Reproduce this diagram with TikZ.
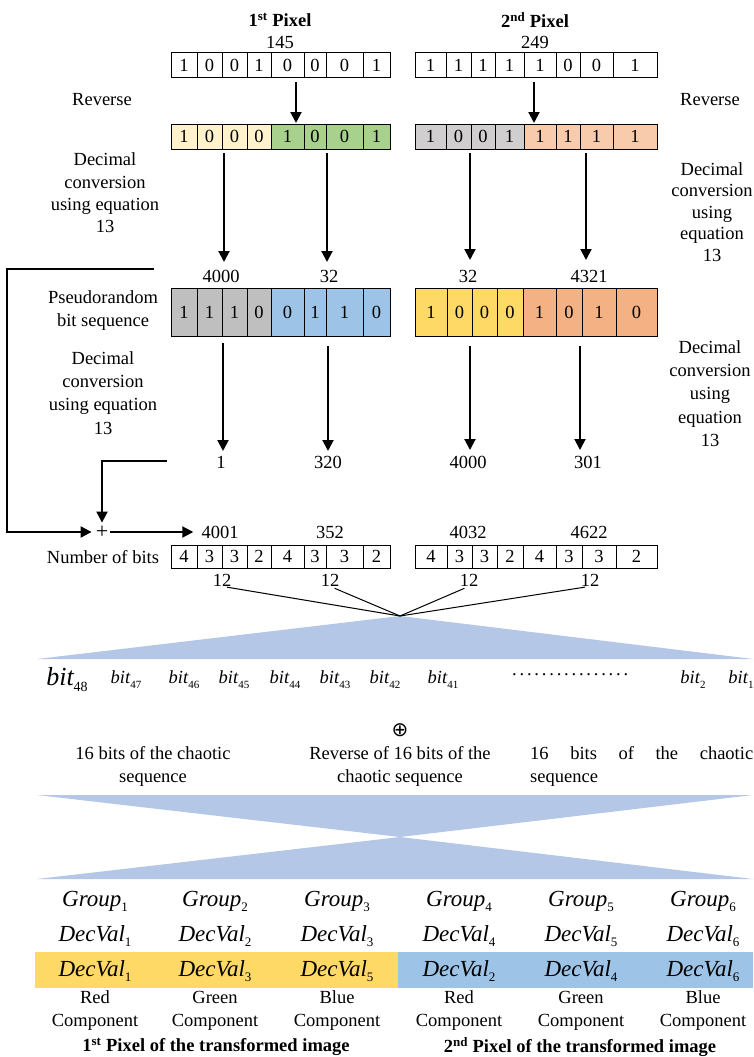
\documentclass[tikz,border=0pt]{standalone}
\usepackage{fontspec}
\setmainfont{Liberation Serif}
\newfontfamily\symfont{DejaVu Sans}
\usetikzlibrary{arrows.meta}
\definecolor{cream}{HTML}{FFF2CC}
\definecolor{greenc}{HTML}{A9D18E}
\definecolor{grayA}{HTML}{D0CECE}
\definecolor{grayB}{HTML}{BFBFBF}
\definecolor{peach}{HTML}{F8CBAD}
\definecolor{blueA}{HTML}{9DC3E6}
\definecolor{yellowA}{HTML}{FFD966}
\definecolor{salmon}{HTML}{F4B183}
\definecolor{triblue}{HTML}{B4C7E7}
\newcommand\lsub[1]{\raisebox{-5pt}{\fontsize{13}{13}\selectfont\upshape #1}}
\newcommand\bsub[1]{\raisebox{-5pt}{\fontsize{11}{11}\selectfont\upshape #1}}
\newcommand\cellrow[4]{%
  \foreach \a/\b/\d/\c [count=\i] in {#4} {
    \node[cell, fill=\c, minimum width={(\b-\a)*1pt}, minimum height={(#3-#2)*1pt}]
      (#1\i) at ({(\a+\b)/2},{(#2+#3)/2}) {\d};
  }}
\tikzset{
  txt/.style={font=\fontsize{18.5}{23}\selectfont, inner sep=0pt, align=center},
  ttl/.style={font=\bfseries\fontsize{18.5}{23}\selectfont, inner sep=0pt, align=center},
  big/.style={font=\itshape\fontsize{23}{23}\selectfont, inner sep=0pt, anchor=base},
  bitlab/.style={font=\itshape\fontsize{18.5}{23}\selectfont, inner sep=0pt, anchor=base},
  cell/.style={draw, line width=1pt, inner sep=0pt, outer sep=0pt, font=\fontsize{18.5}{22}\selectfont},
  arr/.style={line width=2pt, -{Triangle[width=11pt,length=11pt]}},
  thinline/.style={line width=1pt},
}
\begin{document}
\begin{tikzpicture}[x=1pt,y=-1pt]
\useasboundingbox (0,0) rectangle (753,1057);
\fill[white] (0,0) rectangle (753,1057);

% titles
\node[ttl] (p1) at (280,20) {1\textsuperscript{st} Pixel};
\node[ttl] (p2) at (535,20) {2\textsuperscript{nd} Pixel};
\node[txt] (v145) at (280,42) {145};
\node[txt] (v249) at (535,42) {249};

% rows of cells
\cellrow{ta}{53}{77}{171/197/1/white,197/222/0/white,222/247/0/white,247/271/1/white,271/304/0/white,304/326/0/white,326/363/0/white,363/390/1/white}
\cellrow{tb}{53}{77}{415/446/1/white,446/471/1/white,471/495/1/white,495/524/1/white,524/556/1/white,556/580/0/white,580/613/0/white,613/657/1/white}
\cellrow{ra}{124}{149}{171/197/1/cream,197/222/0/cream,222/247/0/cream,247/271/0/cream,271/304/1/greenc,304/326/0/greenc,326/363/0/greenc,363/390/1/greenc}
\cellrow{rb}{124}{149}{415/446/1/grayA,446/471/0/grayA,471/495/0/grayA,495/524/1/grayA,524/556/1/peach,556/580/1/peach,580/613/1/peach,613/657/1/peach}
\cellrow{pa}{288}{336}{171/197/1/grayB,197/222/1/grayB,222/247/1/grayB,247/271/0/grayB,271/304/0/blueA,304/326/1/blueA,326/363/1/blueA,363/390/0/blueA}
\cellrow{pb}{288}{336}{415/447/1/yellowA,447/472/0/yellowA,472/497/0/yellowA,497/523/0/yellowA,523/556/1/salmon,556/582/0/salmon,582/616/1/salmon,616/657/0/salmon}
\cellrow{na}{545}{568}{171/197/4/white,197/222/3/white,222/247/3/white,247/271/2/white,271/304/4/white,304/326/3/white,326/363/3/white,363/390/2/white}
\cellrow{nb}{545}{568}{415/447/4/white,447/472/3/white,472/497/3/white,497/523/2/white,523/556/4/white,556/582/3/white,582/616/3/white,616/657/2/white}

% side labels
\node[txt] (rev1) at (102,100) {Reverse};
\node[txt] (rev2) at (710,100) {Reverse};
\node[txt, font=\fontsize{18.5}{22.3}\selectfont] (dec1) at (105,193) {Decimal\\conversion\\using equation\\13};
\node[txt, font=\fontsize{18.5}{21.6}\selectfont] (dec2) at (712,212) {Decimal\\conversion\\using\\equation\\13};
\node[txt] (pseudo) at (103,311) {Pseudorandom\\bit sequence};
\node[txt, font=\fontsize{18.5}{23.3}\selectfont] (dec3) at (103,393) {Decimal\\conversion\\using equation\\13};
\node[txt, font=\fontsize{18.5}{23.3}\selectfont] (dec4) at (710,393.5) {Decimal\\conversion\\using\\equation\\13};
\node[txt] (nbits) at (103,557) {Number of bits};

% arrows reverse
\coordinate (r1s) at (296,82); \coordinate (r1e) at (296,123);
\coordinate (r2s) at (534,82); \coordinate (r2e) at (534,123);
\draw[arr] (r1s) -- (r1e);
\draw[arr] (r2s) -- (r2e);

% decimal values
\node[txt] (d1) at (221,276) {4000};
\node[txt] (d2) at (329,276) {32};
\node[txt] (d3) at (468,276) {32};
\node[txt] (d4) at (589,276) {4321};
\coordinate (u1s) at (224,153); \coordinate (u1e) at (224,262);
\coordinate (u2s) at (327,153); \coordinate (u2e) at (327,262);
\coordinate (u3s) at (470,153); \coordinate (u3e) at (470,260);
\coordinate (u4s) at (586,153); \coordinate (u4e) at (586,260);
\draw[arr] (u1s) -- (u1e);
\draw[arr] (u2s) -- (u2e);
\draw[arr] (u3s) -- (u3e);
\draw[arr] (u4s) -- (u4e);

\node[txt] (e1) at (221,462) {1};
\node[txt] (e2) at (328,462) {320};
\node[txt] (e3) at (468,462) {4000};
\node[txt] (e4) at (588,462) {301};
\coordinate (w1s) at (223,343); \coordinate (w1e) at (223,451);
\coordinate (w2s) at (328,346); \coordinate (w2e) at (328,451);
\coordinate (w3s) at (470,346); \coordinate (w3e) at (470,450);
\coordinate (w4s) at (580,346); \coordinate (w4e) at (580,450);
\draw[arr] (w1s) -- (w1e);
\draw[arr] (w2s) -- (w2e);
\draw[arr] (w3s) -- (w3e);
\draw[arr] (w4s) -- (w4e);

% sums
\node[txt, font=\fontsize{22}{22}\selectfont] (plus) at (102,532) {+};
\node[txt] (s1) at (220,532) {4001};
\node[txt] (s2) at (330,532) {352};
\node[txt] (s3) at (468,532) {4032};
\node[txt] (s4) at (589,532) {4622};
\coordinate (fa) at (154,269); \coordinate (fb) at (7,269);
\coordinate (fd) at (167,461);
\draw[arr, shorten >=4pt] (fa) -- (fb) |- (plus);
\draw[arr, shorten >=3pt] (fd) -| (plus);
\draw[arr, shorten <=2pt, shorten >=8pt] (plus) -- (s1);

% twelves
\node[txt] (t1) at (222,580) {12};
\node[txt] (t2) at (330,580) {12};
\node[txt] (t3) at (469,580) {12};
\node[txt] (t4) at (590,580) {12};
\coordinate (apex) at (400,616);
\fill[triblue] (37,659) -- (apex) -- (753,659) -- cycle;
\draw[thinline, shorten <=5pt] (t1.south) -- (apex);
\draw[thinline, shorten <=5pt] (t2.south) -- (apex);
\draw[thinline, shorten <=5pt] (t3.south) -- (apex);
\draw[thinline, shorten <=5pt] (t4.south) -- (apex);

% bits row
\node[bitlab, font=\itshape\fontsize{26}{26}\selectfont] (b48) at (67,685) {bit\raisebox{-6pt}{\fontsize{14}{14}\selectfont\upshape 48}};
\node[bitlab] (b47) at (126,683) {bit\bsub{47}};
\node[bitlab] (b46) at (184,683) {bit\bsub{46}};
\node[bitlab] (b45) at (234,683) {bit\bsub{45}};
\node[bitlab] (b44) at (285,683) {bit\bsub{44}};
\node[bitlab] (b43) at (335,683) {bit\bsub{43}};
\node[bitlab] (b42) at (385,683) {bit\bsub{42}};
\node[bitlab] (b41) at (443,683) {bit\bsub{41}};
\node[txt, anchor=base west] (dots) at (512,675) {\foreach \k in {1,...,15}{.\kern2.8pt}.};
\node[bitlab] (b2) at (693,683) {bit\bsub{2}};
\node[bitlab] (b1) at (741,683) {bit\bsub{1}};

% xor and chaotic texts
\node[txt, font=\symfont\fontsize{20}{20}\selectfont] (xor) at (400,730) {⊕};
\node[txt] (c1) at (153,766) {16 bits of the chaotic\\sequence};
\node[txt] (c2) at (400,766) {Reverse of 16 bits of the\\chaotic sequence};
\node[txt, align=left, anchor=west] (c3) at (530,766) {\makebox[223pt][s]{16 bits of the chaotic}\\sequence};

% bow tie
\coordinate (mid) at (400,837);
\fill[triblue] (37,795) -- (753,795) -- (mid) -- cycle;
\fill[triblue] (mid) -- (753,879) -- (37,879) -- cycle;

% groups
\foreach \x/\n in {95/1,215/2,337/3,459/4,581/5,703/6} {
  \node[big] (g\n) at (\x,906) {Group\lsub{\n}};
  \node[big] (v\n) at (\x,941) {DecVal\lsub{\n}};
}
\node[fill=yellowA, inner sep=0pt, minimum width=363pt, minimum height=36pt, anchor=north west] (band1) at (35,952) {};
\node[fill=blueA, inner sep=0pt, minimum width=355pt, minimum height=36pt, anchor=north west] (band2) at (398,952) {};
\foreach \x/\n/\k in {95/1/1,215/2/3,337/3/5,459/4/2,581/5/4,703/6/6} {
  \node[big] (w\n) at (\x,976) {DecVal\lsub{\k}};
}
\foreach \x/\n/\c in {95/1/Red,215/2/Green,337/3/Blue,459/4/Red,581/5/Green,703/6/Blue} {
  \node[txt] (comp\n) at (\x,1011) {\c\\Component};
}
\node[ttl] (cap1) at (216,1047) {1\textsuperscript{st} Pixel of the transformed image};
\node[ttl] (cap2) at (580,1047) {2\textsuperscript{nd} Pixel of the transformed image};
\end{tikzpicture}
\end{document}
